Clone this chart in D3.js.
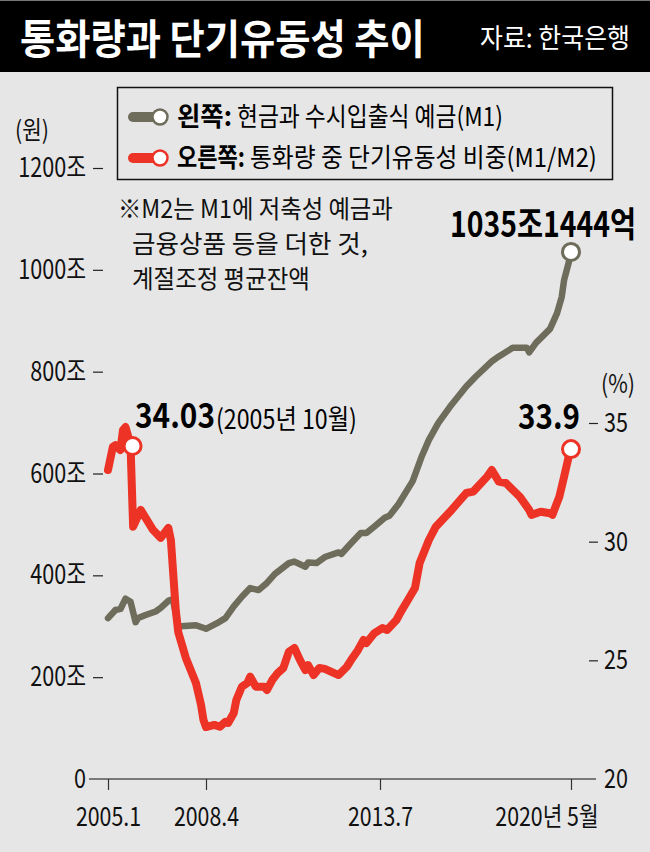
<!DOCTYPE html>
<html><head><meta charset="utf-8">
<script src="https://cdn.jsdelivr.net/npm/d3@7"></script>
<style>
html,body{margin:0;padding:0;background:#e6e6e6;}
svg{display:block;}
text{font-family:"Noto Sans CJK KR","Noto Sans",sans-serif;}
</style></head>
<body><svg id="c" width="650" height="852"></svg>
<script>
// ---------- data ----------
const m1Months = ["2005-01","2005-04","2005-06","2005-08","2005-10","2005-12","2006-01","2006-04","2006-08","2006-10","2007-01","2007-02","2007-03","2007-05","2007-06","2007-12","2008-04","2008-08","2008-11","2009-02","2009-05","2009-08","2009-11","2010-02","2010-05","2010-10","2010-12","2011-04","2011-05","2011-08","2011-11","2012-04","2012-05","2012-08","2012-12","2013-02","2013-05","2013-09","2013-11","2014-03","2014-09","2015-01","2015-04","2015-08","2016-01","2016-08","2016-12","2017-07","2017-10","2018-04","2018-10","2018-11","2019-02","2019-08","2019-11","2020-01","2020-02","2020-04","2020-05"];
const m1Values = [316,332,334,354,348,308,316,322,329,336,350,352,350,300,300,302,295,306,316,339,358,375,371,385,403,424,427,417,425,424,436,445,442,460,483,483,496,513,517,540,585,635,666,699,731,771,790,820,830,847,847,838,857,884,915,947,980,1014,1035.14];

const ratioMonths = ["2005-01","2005-03","2005-04","2005-06","2005-07","2005-08","2005-09","2005-10","2005-11","2006-02","2006-04","2006-07","2006-10","2007-01","2007-02","2007-04","2007-05","2007-08","2007-12","2008-02","2008-03","2008-04","2008-07","2008-09","2008-11","2008-12","2009-02","2009-03","2009-05","2009-07","2009-08","2009-10","2010-01","2010-02","2010-04","2010-06","2010-08","2010-10","2010-12","2011-02","2011-04","2011-05","2011-07","2011-09","2011-11","2012-04","2012-07","2012-09","2012-11","2013-01","2013-02","2013-05","2013-08","2013-10","2014-02","2014-04","2014-07","2014-10","2014-12","2015-04","2015-07","2016-01","2016-08","2016-11","2017-01","2017-05","2017-07","2017-10","2018-01","2018-04","2018-07","2018-11","2018-12","2019-04","2019-08","2019-09","2019-12","2020-02","2020-04","2020-05"];
const ratioValues = [33.02,34.0,34.07,33.86,34.7,34.83,34.45,34.03,30.63,31.34,31.0,30.49,30.16,30.58,30.07,27.12,26.19,25.1,24.05,23.12,22.49,22.19,22.28,22.2,22.41,22.36,22.78,23.33,23.89,24.05,24.31,23.89,23.89,23.75,24.17,24.47,24.68,25.36,25.52,25.01,24.59,24.8,24.38,24.68,24.64,24.38,24.73,25.1,25.44,25.86,25.73,26.15,26.36,26.28,26.7,27.05,27.54,28.05,29.1,30.07,30.63,31.26,32.05,32.11,32.32,32.74,33.02,32.53,32.47,32.18,31.9,31.34,31.13,31.26,31.2,31.13,31.9,32.74,33.58,33.9];

const leftTicks = [0,200,400,600,800,1000,1200];
const rightTicks = [20,25,30,35];
const xTickMonths = ["2005-01","2008-04","2013-07","2020-05"];
const xTickLabels = ["2005.1","2008.4","2013.7","2020년 5월"];

const titleText = "통화량과 단기유동성 추이";
const sourceText = "자료: 한국은행";
const legendBold = ["왼쪽:","오른쪽:"];
const legendDesc = ["현금과 수시입출식 예금(M1)","통화량 중 단기유동성 비중(M1/M2)"];
const noteLines = ["※M2는 M1에 저축성 예금과","금융상품 등을 더한 것,","계절조정 평균잔액"];

// ---------- setup ----------
const GRAY = "#6e6c5a", RED = "#ec3326";
const parse = d3.timeParse("%Y-%m");
const svg = d3.select("#c");

const x = d3.scaleTime()
  .domain(xTickMonths.map(parse))
  .range([108, 206, 380, 571]);
const yL = d3.scaleLinear().domain([0,1200]).range([779,168]);
const yR = d3.scaleLinear().domain([20,35]).range([779,423]);

function condense(sel, f){
  sel.each(function(){
    const l = this.getComputedTextLength();
    d3.select(this).attr("textLength", l*f).attr("lengthAdjust","spacingAndGlyphs");
  });
}
// horizontal squeeze via transform so the on-screen box is exact
function fit(sel, w){
  sel.each(function(){
    const s = d3.select(this);
    const px = +s.attr("x"), py = +s.attr("y");
    const l = this.getComputedTextLength();
    s.attr("x",0).attr("y",0)
     .attr("transform",`translate(${px},${py}) scale(${w/l},1)`);
  });
}

// background
svg.append("rect").attr("width",650).attr("height",852).attr("fill","#e6e6e6");
// title band
svg.append("rect").attr("x",0).attr("y",0).attr("width",650).attr("height",72).attr("fill","#000");
svg.append("rect").attr("x",0).attr("y",0).attr("width",650).attr("height",1).attr("fill","#777");
fit(svg.append("text").attr("x",20).attr("y",54).attr("fill","#fff")
  .attr("font-size",41).attr("font-weight",700).text(titleText), 405);
fit(svg.append("text").attr("x",480).attr("y",48).attr("fill","#fff")
  .attr("font-size",27).text(sourceText), 150);

// legend box
svg.append("rect").attr("x",117.5).attr("y",87.5).attr("width",495).attr("height",92)
  .attr("fill","#e6e6e6").attr("stroke","#111").attr("stroke-width",1.5);
const legColors = [GRAY, RED];
const legY = [117, 158];
const boldW = [55, 68], descX = [237, 250], descW = [266, 347];
legColors.forEach((c,i)=>{
  svg.append("line").attr("x1",133).attr("x2",155).attr("y1",legY[i]).attr("y2",legY[i])
    .attr("stroke",c).attr("stroke-width",10).attr("stroke-linecap","round");
  svg.append("circle").attr("cx",160).attr("cy",legY[i]).attr("r",7.5)
    .attr("fill","#fff").attr("stroke",c).attr("stroke-width",2.5);
  fit(svg.append("text").attr("x",177).attr("y",legY[i]+9).attr("font-size",26)
    .attr("font-weight",700).attr("fill","#000").text(legendBold[i]), boldW[i]);
  fit(svg.append("text").attr("x",descX[i]).attr("y",legY[i]+9).attr("font-size",26)
    .attr("fill","#000").text(legendDesc[i]), descW[i]);
});

// note
const noteX = [118,132,132], noteY=[218,253,288], noteW=[275,236,178];
noteLines.forEach((t,i)=>{
  fit(svg.append("text").attr("x",noteX[i]).attr("y",noteY[i]).attr("font-size",25)
    .attr("fill","#111").text(t), noteW[i]);
});

// left axis
const gL = svg.append("g").attr("transform","translate(103,0)")
  .call(d3.axisLeft(yL).tickValues(leftTicks).tickSize(10).tickPadding(7)
    .tickFormat(d=> d===0 ? "0" : d+"조"));
gL.select(".domain").remove();
gL.selectAll(".tick line").attr("stroke","#222").attr("stroke-width",1.2)
  .filter(d=>d===0).remove();
gL.selectAll(".tick text").attr("font-size",27).attr("fill","#111")
  .attr("font-family",'"Noto Sans CJK KR",sans-serif');
condense(gL.selectAll(".tick text"), 0.8);
condense(svg.append("text").attr("x",15).attr("y",139).attr("font-size",25).attr("fill","#111").text("(원)"),0.85);

// right axis
const gR = svg.append("g").attr("transform","translate(589,0)")
  .call(d3.axisRight(yR).tickValues(rightTicks).tickSize(9).tickPadding(6).tickFormat(d=>d));
gR.select(".domain").remove();
gR.selectAll(".tick line").attr("stroke","#222").attr("stroke-width",1.2)
  .filter(d=>d===20).remove();
gR.selectAll(".tick text").attr("font-size",27).attr("fill","#111")
  .attr("font-family",'"Noto Sans CJK KR",sans-serif');
condense(gR.selectAll(".tick text"), 0.8);
condense(svg.append("text").attr("x",601).attr("y",393).attr("font-size",25).attr("fill","#111").text("(%)"),0.85);

// bottom axis
svg.append("line").attr("x1",89).attr("x2",596).attr("y1",779).attr("y2",779)
  .attr("stroke","#555").attr("stroke-width",1.6);
const gB = svg.append("g").attr("transform","translate(0,779)")
  .call(d3.axisBottom(x).tickValues(xTickMonths.map(parse)).tickSize(11).tickPadding(18)
    .tickFormat((d,i)=>xTickLabels[i]));
gB.select(".domain").remove();
gB.selectAll(".tick line").attr("stroke","#333").attr("stroke-width",1.2);
gB.selectAll(".tick text").attr("font-size",26).attr("fill","#111")
  .attr("font-family",'"Noto Sans CJK KR",sans-serif');
condense(gB.selectAll(".tick text"), 0.82);
gB.selectAll(".tick text").filter((d,i)=>i===xTickLabels.length-1)
  .attr("text-anchor","end").attr("x",27);

// lines
const m1Data = m1Months.map((m,i)=>({d:parse(m), v:m1Values[i]}));
const rData = ratioMonths.map((m,i)=>({d:parse(m), v:ratioValues[i]}));
svg.append("path").datum(m1Data)
  .attr("d", d3.line().x(p=>x(p.d)).y(p=>yL(p.v)))
  .attr("fill","none").attr("stroke",GRAY).attr("stroke-width",6.5)
  .attr("stroke-linejoin","round").attr("stroke-linecap","round");
svg.append("path").datum(rData)
  .attr("d", d3.line().x(p=>x(p.d)).y(p=>yR(p.v)))
  .attr("fill","none").attr("stroke",RED).attr("stroke-width",8)
  .attr("stroke-linejoin","round").attr("stroke-linecap","round");

// markers
const peak = rData[ratioMonths.indexOf("2005-10")];
const lastR = rData[rData.length-1], lastM = m1Data[m1Data.length-1];
[[x(peak.d)+2, yR(peak.v), RED],[x(lastR.d), yR(lastR.v), RED],[x(lastM.d), yL(lastM.v), GRAY]]
  .forEach(([cx,cy,c])=>{
    svg.append("circle").attr("cx",cx).attr("cy",cy).attr("r",8.5)
      .attr("fill","#fff").attr("stroke",c).attr("stroke-width",3);
  });

// annotations
fit(svg.append("text").attr("x",135).attr("y",428).attr("font-size",34).attr("font-weight",700)
  .attr("fill","#000").text(d3.format(".2f")(peak.v)), 80);
fit(svg.append("text").attr("x",216).attr("y",429).attr("font-size",27)
  .attr("fill","#000").text("(2005년 10월)"), 141);
fit(svg.append("text").attr("x",450).attr("y",237).attr("font-size",35).attr("font-weight",700)
  .attr("fill","#000").text("1035조1444억"), 186);
fit(svg.append("text").attr("x",518).attr("y",429).attr("font-size",35).attr("font-weight",700)
  .attr("fill","#000").text(lastR.v.toFixed(1)), 62);
</script></body></html>
